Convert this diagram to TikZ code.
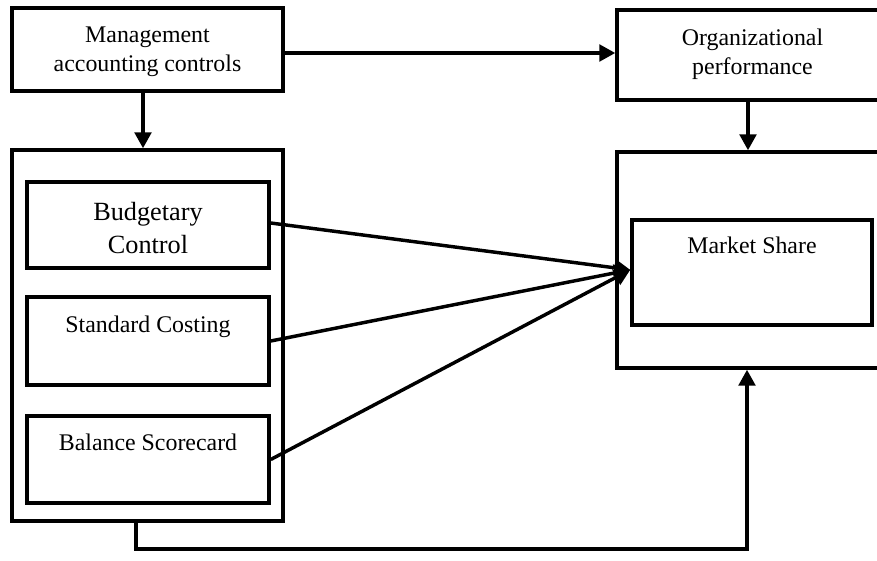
\documentclass[tikz,border=0pt]{standalone}
\usepackage{fontspec}
\setmainfont{Liberation Serif}
\usetikzlibrary{arrows.meta}
\begin{document}
\begin{tikzpicture}[x=0.75pt,y=-0.75pt,
  box/.style={draw,line width=2.6pt,inner sep=0pt,fill=none},
  txt/.style={font=\fontsize{17.9}{21.75}\selectfont,align=center,inner sep=0pt},
  bigtxt/.style={font=\fontsize{19.7}{24.75}\selectfont,align=center,inner sep=0pt},
  arr/.style={line width=2.6pt,-{Triangle[length=12pt,width=12.5pt]}},
  conn/.style={line width=2.6pt}]
\useasboundingbox (0,0) rectangle (877,560);
\clip (0,0) rectangle (877,560);
\node[box,minimum width=203.25pt,minimum height=62.25pt] (mgmt) at (147.5,49.5) {};
\node[txt] (mgmtt) at (147.5,52) {Management\\accounting controls};
\node[box,minimum width=203.25pt,minimum height=67.5pt] (org) at (752.5,55) {};
\node[txt] (orgt) at (752.5,54) {Organizational\\performance};
\node[box,minimum width=203.25pt,minimum height=278.25pt] (lout) at (147.5,335.5) {};
\node[box,minimum width=203.25pt,minimum height=162pt] (rout) at (752.5,260) {};
\node[box,minimum width=181.5pt,minimum height=64.5pt] (bud) at (148,225) {};
\node[bigtxt] (budt) at (148,228) {Budgetary\\Control};
\node[box,minimum width=181.5pt,minimum height=66pt] (std) at (148,341) {};
\node[txt,anchor=base] (stdt) at (148,332) {Standard Costing};
\node[box,minimum width=181.5pt,minimum height=65.25pt] (bal) at (148,459.5) {};
\node[txt,anchor=base] (balt) at (148,450) {Balance Scorecard};
\node[box,minimum width=180pt,minimum height=78.75pt] (ms) at (752,272.5) {};
\node[txt,anchor=base] (mst) at (752,253) {Market Share};
\coordinate (b1) at (136,549);
\coordinate (b2) at (747,549);
\draw[arr] (mgmt.east |- 0,53) -- (org.west |- 0,53);
\draw[arr] (mgmt.south -| 143,0) -- (lout.north -| 143,0);
\draw[arr] (org.south -| 748,0) -- (rout.north -| 748,0);
\draw[arr] ([yshift=1.5pt]bud.east) -- ([yshift=2pt]ms.west);
\draw[arr] (std.east) -- ([yshift=2pt]ms.west);
\draw[arr] (bal.east) -- ([yshift=2pt]ms.west);
\draw[arr] (lout.south -| b1) -- (b1) -- (b2) -- (rout.south -| b2);
\end{tikzpicture}
\end{document}
